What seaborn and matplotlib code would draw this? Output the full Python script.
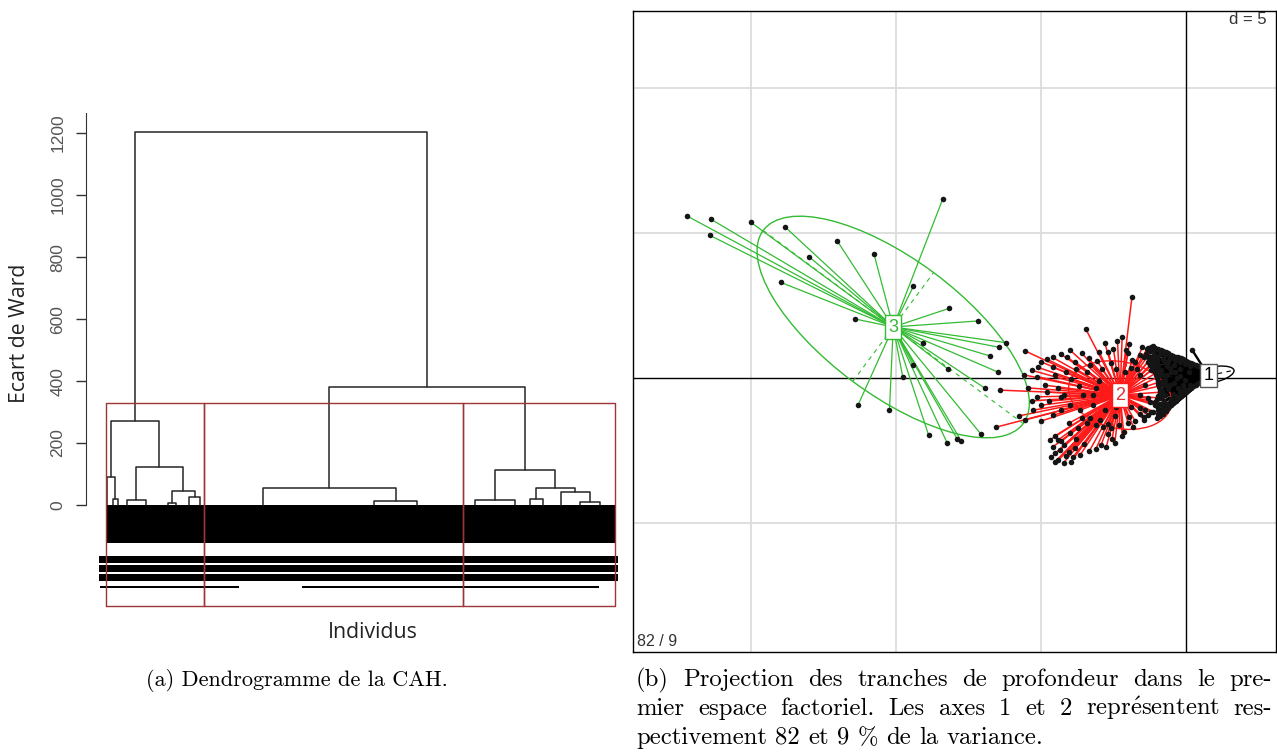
"""
Figure double : dendrogramme de la CAH (a) et projection des classes
dans le premier plan factoriel (b).
"""

import numpy as np
import pandas as pd
import matplotlib
matplotlib.use("Agg")
import matplotlib.pyplot as plt
import seaborn as sns
from matplotlib.patches import Ellipse
from matplotlib.collections import LineCollection

# ---------------- (a) dendrogramme ----------------
# one entry per merge: height, x of left/right legs (% of leaves), heights of the children
merge_h = [1203, 272, 90, 20, 123, 15, 46, 8, 26, 381, 55, 12, 113, 15, 55, 20, 42, 10]
left_x = [5.7, 1.0, 0.2, 1.4, 5.9, 4.1, 13.0, 12.2, 16.3, 43.8, 30.8, 52.7, 76.4, 72.5, 84.5, 83.3, 89.4, 93.1]
right_x = [63.1, 10.4, 1.8, 2.4, 15.1, 7.9, 17.5, 13.8, 18.5, 82.3, 57.0, 61.1, 88.2, 80.4, 92.1, 85.9, 95.1, 97.1]
left_base = [272, 90, 0, 0, 15, 0, 8, 0, 0, 55, 0, 0, 15, 0, 20, 0, 0, 0]
right_base = [381, 123, 20, 0, 46, 0, 26, 0, 0, 113, 12, 0, 55, 0, 42, 0, 10, 0]

# cut into 3 classes (rect.hclust)
class_edges = [0, 19.25, 70.1, 100]
rect_top, rect_bottom = 329, -326

# overlapping leaf labels
leaf_block = -122
label_rows_top = [-165, -194, -223]
label_rows_bottom = [-187, -216, -245]
label_rows_x = (-1.4, 100.6)
last_row = (-261, -268)
last_row_x = [(-1.2, 26.1), (38.5, 96.8)]

y_ticks = [0, 200, 400, 600, 800, 1000, 1200]

# ---------------- (b) s.class ----------------
# classe 1 (noir)
c1_pts = [(-1.30, 1.02), (-1.13, 1.09), (-0.95, 0.99), (-0.78, 0.92), (-0.61, 0.85), (-0.44, 0.75),
          (-0.26, 0.71), (-0.09, 0.64), (0.08, 0.54), (0.26, 0.47), (0.43, 0.40),
          (-1.37, 0.81), (-1.23, 0.61), (-1.16, 0.40), (-1.06, 0.19), (-0.99, -0.01), (-0.95, -0.22),
          (-0.88, -0.43), (-0.95, -0.64), (-1.06, -0.84), (-0.95, -1.12), (-0.99, -1.39),
          (-0.78, -1.26), (-0.61, -1.05), (-0.44, -0.88), (-0.26, -0.70), (-0.09, -0.57), (0.08, -0.43),
          (0.26, -0.29), (0.43, -0.19), (-0.71, 0.54), (-0.54, 0.33), (-0.37, 0.19), (-0.19, 0.06),
          (-0.54, -0.26), (-0.26, -0.36), (-0.71, -0.60), (-0.02, -0.08), (0.22, 0.95),
          (-1.20, 1.05), (-1.05, 1.04), (-0.87, 0.96), (-0.70, 0.88), (-0.52, 0.80), (-0.35, 0.73),
          (-0.18, 0.68), (0.00, 0.59), (0.17, 0.50), (0.35, 0.43), (-1.30, 0.70), (-1.20, 0.50),
          (-1.10, 0.30), (-1.02, 0.09), (-0.97, -0.12), (-0.92, -0.33), (-0.90, -0.54), (-1.00, -0.74),
          (-1.00, -0.98), (-0.97, -1.25), (-0.88, -1.32), (-0.70, -1.15), (-0.52, -0.96), (-0.35, -0.79),
          (-0.18, -0.63), (0.00, -0.50), (0.17, -0.36), (0.35, -0.24), (-1.00, 0.70), (-0.80, 0.65),
          (-0.60, 0.55), (-0.40, 0.45), (-0.85, 0.25), (-0.65, 0.10), (-0.80, -0.10), (-0.60, -0.40),
          (-0.75, -0.80), (-0.45, -0.55), (-0.30, 0.00),
          (-1.25, 0.92), (-1.10, 0.95), (-0.90, 0.85), (-0.72, 0.78), (-0.55, 0.68), (-0.38, 0.62),
          (-0.20, 0.55), (-0.02, 0.48), (0.15, 0.40), (-1.15, 0.75), (-1.10, 0.60), (-1.05, 0.45),
          (-0.95, 0.30), (-0.90, 0.10), (-0.85, -0.20), (-0.82, -0.45), (-0.85, -0.65), (-0.88, -0.90),
          (-0.90, -1.15), (-0.80, -1.05), (-0.65, -0.90), (-0.50, -0.75), (-0.35, -0.62), (-0.20, -0.50),
          (-0.05, -0.38), (0.15, -0.25), (-0.50, 0.20), (-0.40, -0.20), (-0.20, 0.30), (-0.10, -0.25),
          (0.10, 0.20), (-0.65, 0.40), (-0.70, -0.25)]
# classe 2 (rouge)
c2_pts = [(-1.86, 2.79), (-3.45, 1.67), (-2.36, 1.26), (-1.95, 1.16), (-5.54, 0.92), (-4.31, 0.81),
          (-4.78, 0.63), (-5.30, 0.25), (-5.12, 0.36), (-4.59, 0.36), (-5.14, 0.04), (-6.40, -0.43),
          (-5.13, -0.66), (-4.72, -0.81), (-4.31, -0.66), (-5.26, -1.12), (-5.76, -1.32), (-5.56, -1.46),
          (-6.56, -1.71), (-4.05, -1.58), (-3.71, -1.75), (-4.22, -2.33), (-4.51, -2.61), (-4.51, -2.90),
          (-4.22, -2.94), (-3.96, -2.90), (-3.65, -2.67), (-3.33, -2.53), (-2.93, -2.33), (-2.55, -2.13),
          (-2.15, -1.87), (-1.81, -1.70), (-1.46, -1.37), (-1.12, -1.18), (-0.77, -0.89), (-1.17, 0.95),
          (-1.00, 0.61), (-3.36, 0.67), (-2.44, -1.33), (-1.98, -1.37), (-4.10, 0.71), (-3.82, 0.54),
          (-3.30, 0.44), (-3.06, 0.57), (-4.13, 0.19), (-4.85, -0.26), (-4.41, -0.36), (-3.99, -0.95),
          (-3.65, -1.12), (-3.30, -1.40), (-2.96, -1.46), (-4.41, -2.15), (-4.34, -2.50), (-4.13, -2.71),
          (-3.82, -2.43), (-2.68, -1.60), (-1.57, -1.05), (-1.30, -0.71), (-0.88, -0.50), (-0.71, -0.08),
          (-0.88, 0.26), (-1.23, 0.44), (-1.57, 0.09), (-1.40, -0.26), (-2.68, 0.88), (-2.06, 0.95),
          (-3.09, -0.36), (-3.54, -0.60), (-1.57, 0.78), (-1.75, 0.54),
          (-1.50, 1.05), (-1.35, 0.98), (-1.45, 0.70), (-1.30, 0.55), (-1.10, 0.80), (-0.95, 0.45),
          (-1.20, 0.25), (-0.80, 0.10), (-0.75, -0.25), (-0.90, -0.70), (-1.05, -0.95), (-1.25, -0.85),
          (-1.40, -1.10), (-1.60, -1.25), (-1.75, -1.50), (-2.00, -1.55), (-2.30, -1.65), (-2.60, -1.75),
          (-2.85, -1.70), (-3.10, -1.65), (-3.40, -1.55), (-2.20, -2.00), (-2.45, -2.25), (-2.75, -2.40),
          (-3.10, -2.45), (-3.50, -2.30), (-3.80, -2.10), (-4.00, -1.90), (-4.60, -2.40), (-4.65, -2.75),
          (-4.40, -2.85), (-4.30, -2.20), (-4.05, -2.55), (-3.90, -2.75), (-4.50, -2.00), (-4.70, -2.15),
          (-5.00, -0.95), (-5.30, -0.80), (-5.45, -0.35), (-5.60, 0.10), (-5.00, 0.55), (-4.60, 0.70),
          (-4.00, 0.95), (-3.60, 0.85), (-3.00, 0.90), (-2.80, 1.20), (-2.50, 1.00), (-3.95, -0.05),
          (-4.20, -0.60), (-4.60, -1.30), (-5.00, -1.50), (-3.70, -0.30), (-3.40, 0.20), (-3.20, -0.95),
          (-2.90, 0.30), (-2.20, 1.40), (-2.00, 0.85), (-1.85, 0.60), (-1.70, 0.30),
          (-2.60, 0.50), (-2.40, 0.30), (-2.10, 0.20), (-3.00, -0.10), (-3.20, -0.60), (-2.80, -1.10),
          (-2.40, -1.00), (-1.90, -1.00), (-1.60, -0.60), (-1.90, 0.35), (-3.80, 0.30), (-4.50, 0.10),
          (-4.80, -0.50), (-4.30, -1.10), (-3.60, -1.40), (-2.70, -1.95), (-1.45, -1.45), (-1.30, -1.30),
          (-1.20, -1.20)]
# classe 3 (vert)
c3_pts = [(-17.21, 5.58), (-16.39, 5.47), (-16.42, 4.91), (-15.02, 5.37), (-13.84, 5.21), (-12.03, 4.72),
          (-10.76, 4.26), (-13.00, 4.17), (-8.39, 6.17), (-13.98, 3.29), (-9.40, 3.16), (-8.18, 2.39),
          (-11.43, 2.03), (-7.16, 1.96), (-6.21, 1.21), (-6.44, 1.05), (-9.06, 1.19), (-6.76, 0.75),
          (-6.50, 0.20), (-9.42, 0.45), (-8.21, 0.30), (-9.77, 0.02), (-6.94, -0.36), (-11.32, -0.96),
          (-10.23, -1.12), (-8.88, -1.98), (-8.23, -2.27), (-7.90, -2.10), (-7.76, -2.17), (-7.07, -1.95)]

class_names = ["1", "2", "3"]
class_colors = ["black", "#ff1a1a", "#33bb33"]
class_text_colors = ["black", "#e0303a", "#3cb43c"]
centers_x = [0.78, -2.27, -10.10]
centers_y = [0.07, -0.60, 1.75]
ell_a = [0.9, 1.8, 5.59]
ell_b = [0.28, 1.15, 2.34]
ell_angle = [12, -12, -36.6]

grid_step = 5

W, H = 1277, 753


def fx(px):
    return px / W


def fy(py):
    return 1 - py / H


sns.set_style("white")
plt.rcParams['font.family'] = ['Liberation Sans', 'DejaVu Sans']
plt.rcParams['mathtext.fontset'] = 'cm'

fig = plt.figure(figsize=(W / 100, H / 100), dpi=100)

# ---------- left panel ----------
axL = fig.add_axes([fx(86), fy(620), (620 - 86) / W, (620 - 113) / H])
axL.set_xlim(-3.93, 101.0)
axL.set_ylim(-371, 1265)

for h, lx, rx, lb, rb in zip(merge_h, left_x, right_x, left_base, right_base):
    axL.plot([lx, lx, rx, rx], [lb, h, h, rb], color="#262626", lw=1.1, zorder=3)

axL.fill_between([class_edges[0], class_edges[-1]], leaf_block, 0, color="black", lw=0, zorder=2)
for top, bot in zip(label_rows_top, label_rows_bottom):
    axL.fill_between(list(label_rows_x), bot, top, color="black", lw=0, zorder=2)
for x0, x1 in last_row_x:
    axL.fill_between([x0, x1], last_row[1], last_row[0], color="black", lw=0, zorder=2)

for x0, x1 in zip(class_edges[:-1], class_edges[1:]):
    axL.plot([x0, x1, x1, x0, x0], [rect_bottom, rect_bottom, rect_top, rect_top, rect_bottom],
             color="#9e3535", lw=1, zorder=4)

axL.spines[['top', 'right', 'bottom']].set_visible(False)
axL.spines['left'].set_bounds(0, 1265)
axL.spines['left'].set_color('#333333')
axL.set_xticks([])
axL.set_yticks(y_ticks)
axL.set_yticklabels([str(t) for t in y_ticks])
axL.tick_params(axis='y', left=True, length=7, width=1, color='#333333', pad=8,
                labelsize=12.5, labelcolor='#555555')
for lbl in axL.get_yticklabels():
    lbl.set_rotation(90)
    lbl.set_va('center')

fig.text(fx(20), fy(333), "Ecart de Ward", rotation=90, ha="center", va="center",
         fontsize=15.3, family="Open Sans", color="#222222")
fig.text(fx(373), fy(632), "Individus", ha="center", va="center",
         fontsize=15.3, family="Open Sans", color="#222222")

# ---------- right panel ----------
axR = fig.add_axes([fx(633), fy(651.7), (1276 - 633) / W, (651.7 - 10.7) / H])

pts = pd.DataFrame(c1_pts + c2_pts + c3_pts, columns=["x", "y"])
pts["classe"] = ["1"] * len(c1_pts) + ["2"] * len(c2_pts) + ["3"] * len(c3_pts)

xlim = (-19.08, 3.11)
ylim = (-9.46, 12.67)
for gx in np.arange(-15, xlim[1], grid_step):
    if gx != 0:
        axR.axvline(gx, color="#dcdcdc", lw=1.3, zorder=0)
for gy in np.arange(-5, ylim[1], grid_step):
    if gy != 0:
        axR.axhline(gy, color="#dcdcdc", lw=1.3, zorder=0)
axR.axvline(0, color="black", lw=1, zorder=1)
axR.axhline(0, color="black", lw=1, zorder=1)

# stars
star_lw = [1.7, 1.1, 0.9]
for k, name in enumerate(class_names):
    sub = pts[pts["classe"] == name]
    segs = [[(centers_x[k], centers_y[k]), (px, py)] for px, py in zip(sub["x"], sub["y"])]
    axR.add_collection(LineCollection(segs, colors=class_colors[k], linewidths=star_lw[k], zorder=2 + k))

# ellipses
for k in range(3):
    col = class_colors[k]
    axR.add_patch(Ellipse((centers_x[k], centers_y[k]), 2 * ell_a[k], 2 * ell_b[k],
                          angle=ell_angle[k], fill=False, ec=col, lw=1, zorder=6))
    t = np.deg2rad(ell_angle[k])
    ux, uy = np.cos(t), np.sin(t)
    vx, vy = -np.sin(t), np.cos(t)
    axR.plot([centers_x[k] - ell_a[k] * ux, centers_x[k] + ell_a[k] * ux],
             [centers_y[k] - ell_a[k] * uy, centers_y[k] + ell_a[k] * uy],
             color=col, lw=0.8, ls=(0, (4, 4)), zorder=6)
    axR.plot([centers_x[k] - ell_b[k] * vx, centers_x[k] + ell_b[k] * vx],
             [centers_y[k] - ell_b[k] * vy, centers_y[k] + ell_b[k] * vy],
             color=col, lw=0.8, ls=(0, (4, 4)), zorder=6)

sns.scatterplot(data=pts, x="x", y="y", color="#151515", s=16, linewidth=0,
                ax=axR, zorder=7, legend=False)

for k, name in enumerate(class_names):
    axR.text(centers_x[k], centers_y[k], name, ha="center", va="center", fontsize=13,
             color=class_text_colors[k], zorder=8,
             bbox=dict(boxstyle="square,pad=0.18", fc="white",
                       ec=class_colors[k] if k else "#555555", lw=1))

axR.set_xlim(*xlim)
axR.set_ylim(*ylim)
axR.set_xticks([])
axR.set_yticks([])
axR.set_xlabel("")
axR.set_ylabel("")
for sp in axR.spines.values():
    sp.set_color("black")
    sp.set_linewidth(1)

fig.text(fx(1267), fy(20), "d = 5", ha="right", va="center", fontsize=12, color="#333333")
fig.text(fx(637), fy(641), "82 / 9", ha="left", va="center", fontsize=11.5,
         family=["Liberation Sans Narrow", "Liberation Sans"], color="#333333")

# ---------- captions ----------
cap_a = dict(fontsize=16, family="cmr10", color="black")
cap_font = dict(fontsize=17.8, family="cmr10", color="black")
fig.text(fx(297), fy(686), "(a) Dendrogramme de la CAH.", ha="center", va="baseline", **cap_a)

renderer = fig.canvas.get_renderer()


def justify(words, x0, x1, y, stretch=True):
    texts = [fig.text(0, fy(y), w, ha="left", va="baseline", **cap_font) for w in words]
    widths = [t.get_window_extent(renderer).width for t in texts]
    if stretch:
        gap = (x1 - x0 - sum(widths)) / (len(words) - 1)
    else:
        gap = cap_font["fontsize"] * 100 / 72 * 0.33
    x = x0
    for t, w in zip(texts, widths):
        t.set_x(fx(x))
        x += w + gap


justify("(b) Projection des tranches de profondeur dans le pre-".split(), 636, 1272, 686)
justify(r"mier espace factoriel. Les axes 1 et 2 repr$\mathrm{\acute{e}}$sentent res-".split(), 636, 1272, 715)
justify("pectivement 82 et 9 % de la variance.".split(), 636, 1272, 744, stretch=False)

fig.savefig("out.png", dpi=100)
